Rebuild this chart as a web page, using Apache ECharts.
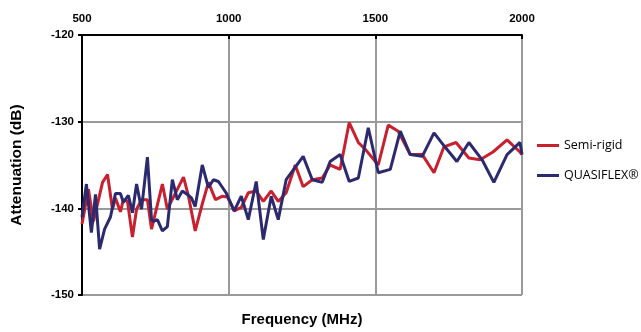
<!DOCTYPE html>
<html>
<head>
<meta charset="utf-8">
<script src="https://cdn.jsdelivr.net/npm/echarts@6/dist/echarts.min.js"></script>
<style>html,body{margin:0;padding:0;background:#fff}#c{width:641px;height:332px}</style>
</head>
<body>
<div id="c"></div>
<script>
const xTicks = [500, 1000, 1500, 2000];
const yTicks = [-150, -140, -130, -120];

const semiFreq = [500, 522, 539, 570, 587, 604, 614, 631, 641, 655, 672, 686, 703, 723, 737, 774, 791, 846, 863, 886, 910, 931, 955, 979, 996, 1019, 1043, 1067, 1094, 1118, 1145, 1169, 1196, 1227, 1254, 1285, 1319, 1346, 1380, 1411, 1442, 1466, 1510, 1544, 1578, 1619, 1660, 1700, 1734, 1775, 1819, 1857, 1901, 1949, 1993, 2000];
const semiVals = [-141.8, -137.8, -141.5, -137, -136.1, -140.1, -138.8, -140.4, -139, -139.2, -143.3, -140.1, -139, -139, -142.4, -137.2, -140.1, -136.4, -138.6, -142.6, -139.5, -137, -139, -138.6, -138.7, -140.3, -139.9, -138.2, -138, -139.2, -138, -139.2, -138.2, -135, -137.5, -136.7, -136.5, -135, -135.5, -130.1, -132.4, -133.2, -135, -130.4, -131.1, -133.8, -133.8, -135.9, -132.9, -132.4, -134.2, -134.4, -133.5, -132.1, -133.5, -133.8];

const quasiFreq = [500, 515, 532, 546, 560, 577, 597, 614, 631, 641, 658, 672, 686, 703, 723, 737, 744, 757, 774, 791, 808, 825, 842, 859, 873, 886, 910, 931, 948, 965, 991, 1019, 1043, 1067, 1094, 1118, 1145, 1169, 1196, 1254, 1285, 1319, 1346, 1380, 1411, 1442, 1476, 1510, 1551, 1585, 1619, 1660, 1700, 1737, 1778, 1819, 1864, 1904, 1949, 1993, 2000];
const quasiVals = [-141, -137.2, -142.8, -138.4, -144.7, -142.4, -141, -138.3, -138.3, -139.3, -138.5, -140.5, -137.2, -140.1, -134.1, -141.3, -141.5, -141.3, -142.6, -142.1, -136.7, -139, -138, -138.4, -138.8, -139.8, -135, -137.6, -136.7, -136.9, -138.2, -140.3, -138.6, -141.3, -136.9, -143.6, -138.6, -141.3, -136.7, -134, -136.7, -137, -134.6, -133.8, -136.9, -136.5, -130.7, -135.9, -135.5, -131.1, -133.8, -134, -131.3, -132.9, -134.6, -132.4, -134.4, -137, -133.8, -132.4, -133.8];

const zip = (a, b) => a.map((v, i) => [v, b[i]]);
const font = '"Liberation Sans", Arial, sans-serif';

const chart = echarts.init(document.getElementById('c'));
chart.setOption({
  animation: false,
  backgroundColor: '#fff',
  grid: { left: 82, right: 119, top: 35, bottom: 37, containLabel: false },
  xAxis: {
    type: 'value', position: 'top', min: xTicks[0], max: xTicks[xTicks.length - 1], interval: 500,
    axisLine: { show: true, lineStyle: { color: '#000', width: 2 } },
    axisTick: { show: true, inside: true, length: 4, lineStyle: { color: '#000', width: 2 } },
    axisLabel: { color: '#000', fontFamily: font, fontWeight: 'bold', fontSize: 11.5, margin: 10, formatter: v => String(v) },
    splitLine: { show: true, lineStyle: { color: '#9a9a9a', width: 2 } }
  },
  yAxis: {
    type: 'value', min: yTicks[0], max: yTicks[yTicks.length - 1], interval: 10,
    name: 'Attenuation (dB)', nameLocation: 'middle', nameGap: 57,
    nameTextStyle: { color: '#000', fontFamily: font, fontWeight: 'bold', fontSize: 15.5 },
    axisLine: { show: true, lineStyle: { color: '#000', width: 2 } },
    axisTick: { show: true, length: 4, lineStyle: { color: '#000', width: 2 } },
    axisLabel: { color: '#000', fontFamily: font, fontWeight: 'bold', fontSize: 11.5, margin: 8, formatter: v => String(v) },
    splitLine: { show: true, lineStyle: { color: '#9a9a9a', width: 2 } }
  },
  legend: {
    orient: 'vertical', left: 532, top: 134, itemWidth: 22, itemHeight: 3, itemGap: 17,
    icon: 'rect',
    textStyle: { color: '#000', fontFamily: '"Open Sans", sans-serif', fontSize: 12.5 },
    data: ['Semi-rigid', 'QUASIFLEX®']
  },
  graphic: [{
    type: 'text', x: 302, y: 312,
    style: { text: 'Frequency (MHz)', fill: '#000', font: 'bold 15px ' + font, textAlign: 'center' }
  }],
  series: [
    { name: 'Semi-rigid', type: 'line', data: zip(semiFreq, semiVals), showSymbol: false, symbol: 'none',
      lineStyle: { color: '#C8202F', width: 3 }, itemStyle: { color: '#C8202F' } },
    { name: 'QUASIFLEX®', type: 'line', data: zip(quasiFreq, quasiVals), showSymbol: false, symbol: 'none',
      lineStyle: { color: '#2C2A6E', width: 3 }, itemStyle: { color: '#2C2A6E' } }
  ]
});
</script>
</body>
</html>
